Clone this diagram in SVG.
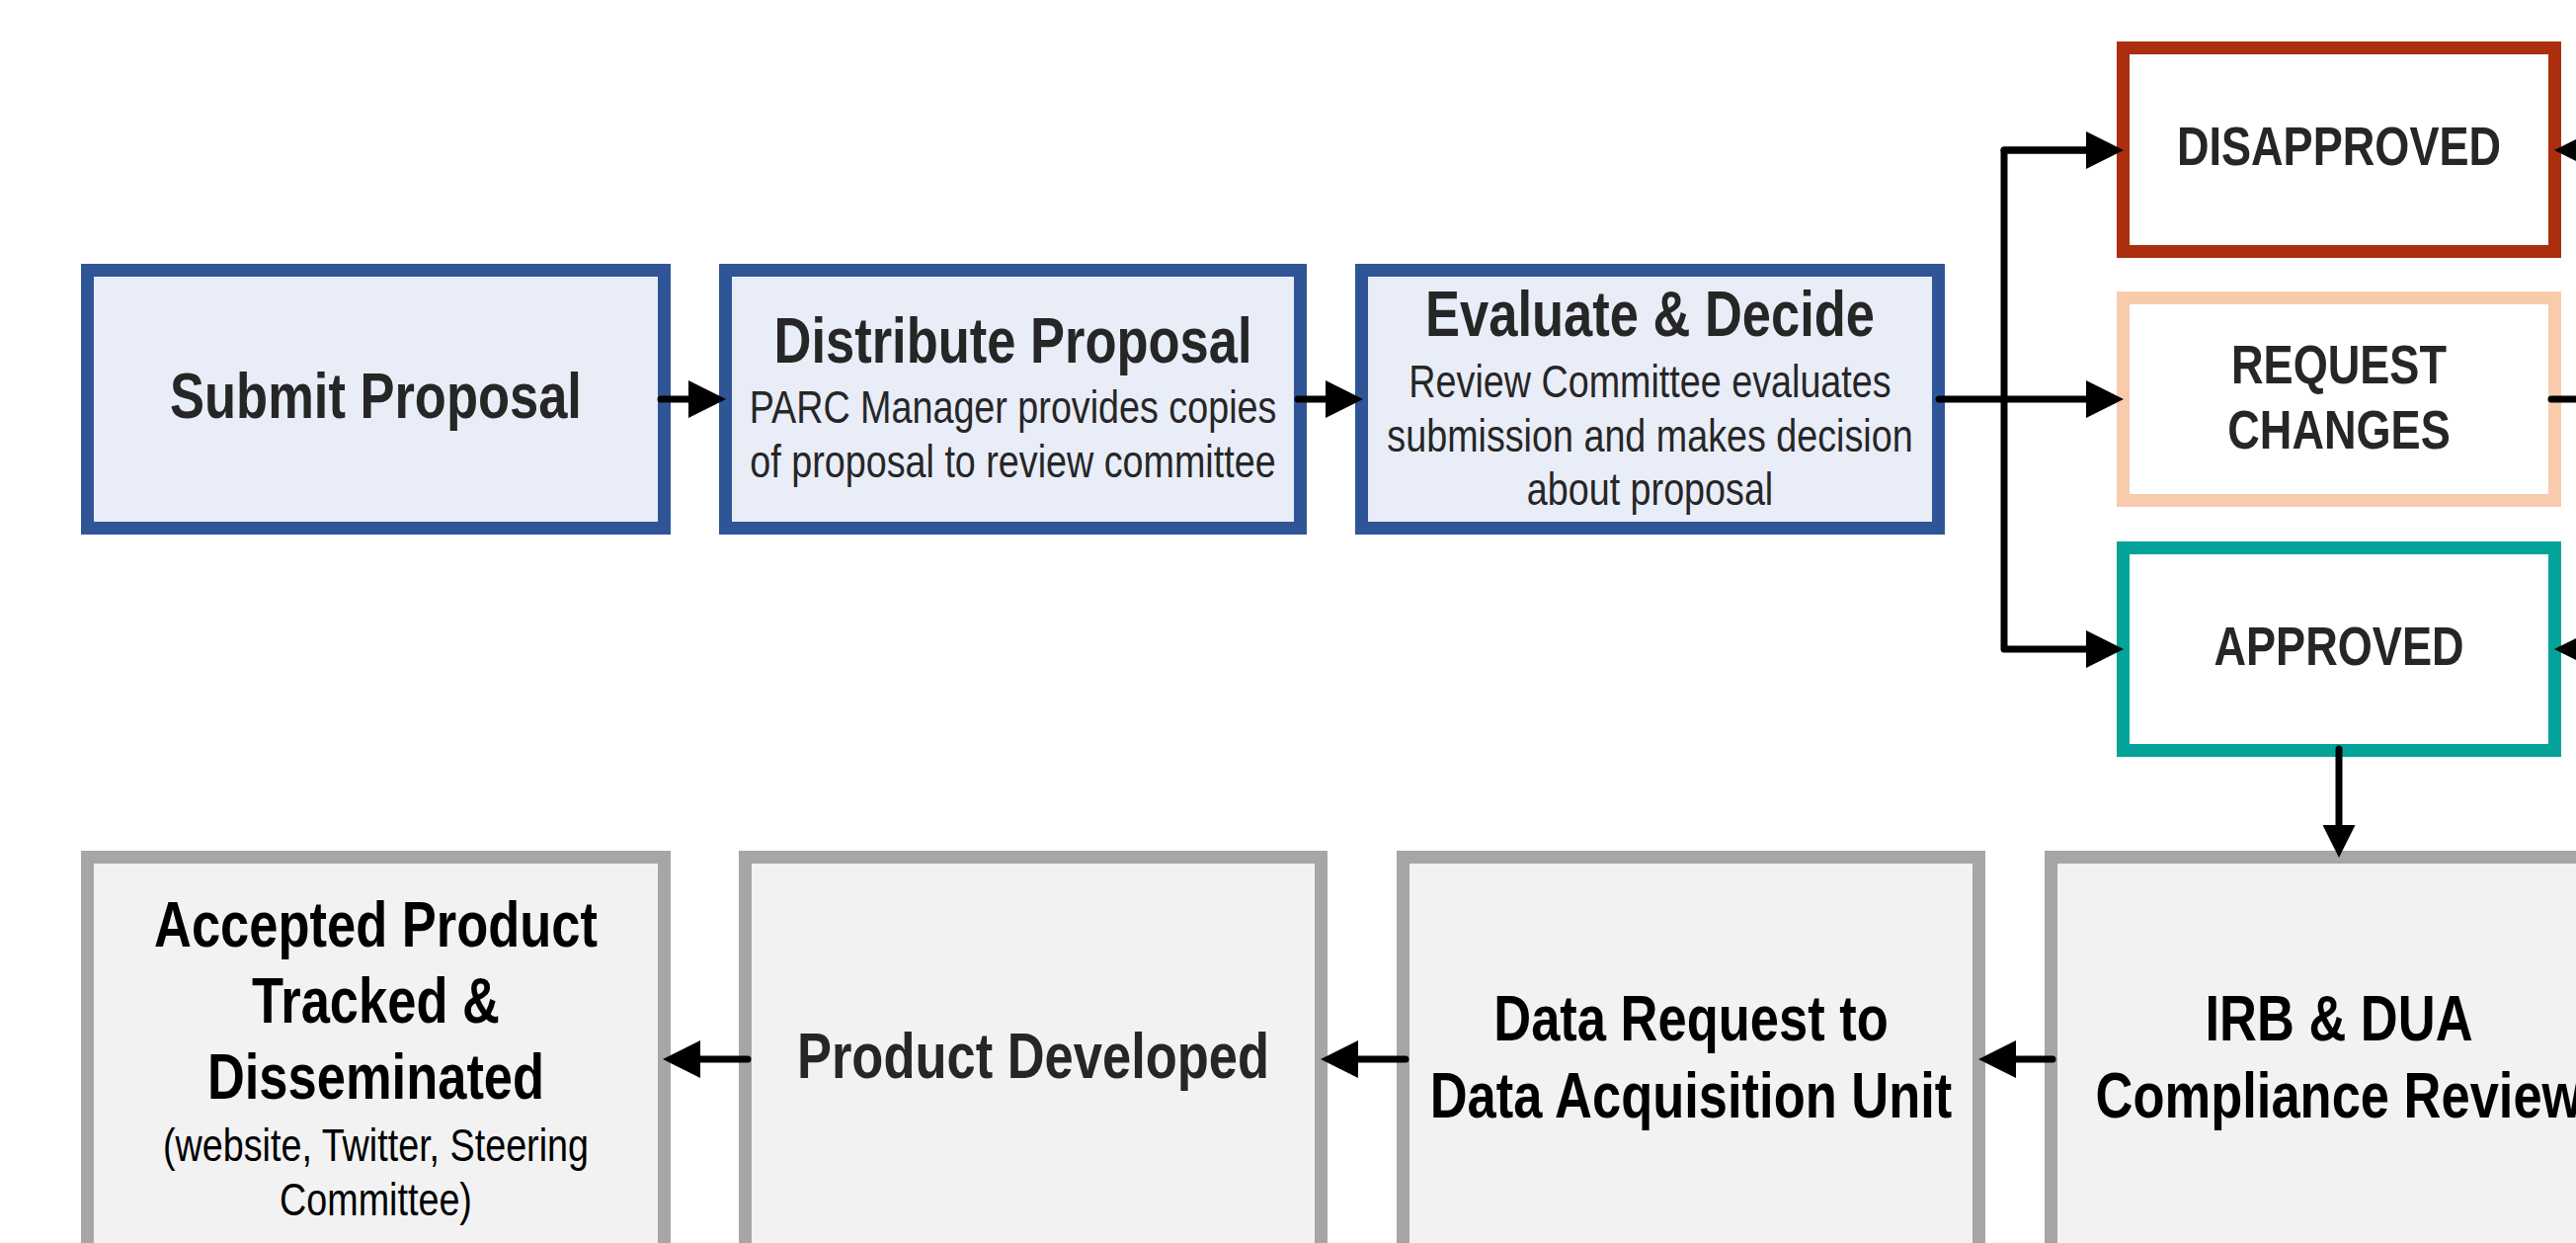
<svg xmlns="http://www.w3.org/2000/svg" width="2608" height="1258" viewBox="0 0 2608 1258">
<style>
  text { font-family: 'Liberation Sans', Arial, sans-serif; text-anchor: middle; }
  .t { font-weight: bold; font-size: 64px; fill: #262626; }
  .tk { font-weight: bold; font-size: 64px; fill: #000000; }
  .s { font-size: 46px; fill: #262626; }
  .sk { font-size: 46px; fill: #000000; }
  .d { font-weight: bold; font-size: 55px; fill: #262626; }
  .blue { fill: #E9EDF8; stroke: #2F5597; stroke-width: 13; }
  .gray { fill: #F2F2F2; stroke: #A6A6A6; stroke-width: 13; }
  .red { fill: #FFFFFF; stroke: #AB2E0E; stroke-width: 13; }
  .peach { fill: #FFFFFF; stroke: #F8CBAD; stroke-width: 13; }
  .teal { fill: #FFFFFF; stroke: #03A399; stroke-width: 13; }
  .c { fill: none; stroke: #000000; stroke-width: 7; stroke-linecap: round; stroke-linejoin: round; }
</style>
<defs>
  <marker id="ah" markerUnits="userSpaceOnUse" markerWidth="38" markerHeight="38" viewBox="0 0 37 37" refX="0" refY="18.5" orient="auto">
    <path d="M0,0 L37,18.5 L0,37 Z" fill="#000000"/>
  </marker>
  <marker id="ahs" markerUnits="userSpaceOnUse" markerWidth="33" markerHeight="33" viewBox="0 0 32 32" refX="0" refY="16" orient="auto">
    <path d="M0,0 L32,16 L0,32 Z" fill="#000000"/>
  </marker>
</defs>
<rect width="2608" height="1258" fill="#FFFFFF"/>

<g id="submit">
  <rect class="blue" x="88.5" y="273.5" width="584" height="261"/>
  <text class="t" transform="translate(380.5,423) scale(0.82,1)">Submit Proposal</text>
</g>
<g id="distribute">
  <rect class="blue" x="734.5" y="273.5" width="582" height="261"/>
  <text class="t" transform="translate(1025.5,367) scale(0.82,1)">Distribute Proposal</text>
  <text class="s" transform="translate(1025.5,428) scale(0.82,1)">PARC Manager provides copies</text>
  <text class="s" transform="translate(1025.5,483) scale(0.82,1)">of proposal to review committee</text>
</g>
<g id="evaluate">
  <rect class="blue" x="1378.5" y="273.5" width="584" height="261"/>
  <text class="t" transform="translate(1670.5,340) scale(0.82,1)">Evaluate &amp; Decide</text>
  <text class="s" transform="translate(1670.5,402) scale(0.82,1)">Review Committee evaluates</text>
  <text class="s" transform="translate(1670.5,457) scale(0.82,1)">submission and makes decision</text>
  <text class="s" transform="translate(1670.5,511) scale(0.82,1)">about proposal</text>
</g>
<g id="disapproved">
  <rect class="red" x="2149.5" y="48.5" width="437" height="206"/>
  <text class="d" transform="translate(2368,167) scale(0.82,1)">DISAPPROVED</text>
</g>
<g id="request-changes">
  <rect class="peach" x="2149.5" y="301.5" width="437" height="205"/>
  <text class="d" transform="translate(2368,388) scale(0.82,1)">REQUEST</text>
  <text class="d" transform="translate(2368,454) scale(0.82,1)">CHANGES</text>
</g>
<g id="approved">
  <rect class="teal" x="2149.5" y="554.5" width="437" height="205"/>
  <text class="d" transform="translate(2368,673) scale(0.82,1)">APPROVED</text>
</g>
<g id="accepted">
  <rect class="gray" x="88.5" y="867.5" width="584" height="420"/>
  <text class="tk" transform="translate(380.5,958) scale(0.82,1)">Accepted Product</text>
  <text class="tk" transform="translate(380.5,1035) scale(0.82,1)">Tracked &amp;</text>
  <text class="tk" transform="translate(380.5,1112) scale(0.82,1)">Disseminated</text>
  <text class="sk" transform="translate(380.5,1175) scale(0.82,1)">(website, Twitter, Steering</text>
  <text class="sk" transform="translate(380.5,1230) scale(0.82,1)">Committee)</text>
</g>
<g id="product-developed">
  <rect class="gray" x="754.5" y="867.5" width="583" height="420"/>
  <text class="t" transform="translate(1046,1091) scale(0.82,1)">Product Developed</text>
</g>
<g id="data-request">
  <rect class="gray" x="1420.5" y="867.5" width="583" height="420"/>
  <text class="tk" transform="translate(1712,1053) scale(0.82,1)">Data Request to</text>
  <text class="tk" transform="translate(1712,1131) scale(0.82,1)">Data Acquisition Unit</text>
</g>
<g id="irb-dua">
  <rect class="gray" x="2076.5" y="867.5" width="584" height="420"/>
  <text class="tk" transform="translate(2368,1053) scale(0.82,1)">IRB &amp; DUA</text>
  <text class="tk" transform="translate(2368,1131) scale(0.82,1)">Compliance Review</text>
</g>

<g id="connectors">
  <path class="c" d="M669,404 H697" marker-end="url(#ah)"/>
  <path class="c" d="M1314,404 H1342" marker-end="url(#ah)"/>
  <path class="c" d="M1963,404 H2112" marker-end="url(#ah)"/>
  <path class="c" d="M2112,152 H2029 V657 H2112" marker-end="url(#ah)"/>
  <path class="c" d="M2029,152 H2112" marker-end="url(#ah)"/>
  <path class="c" d="M2660,152 H2624" marker-end="url(#ah)"/>
  <path class="c" d="M2583,404 H2660"/>
  <path class="c" d="M2660,657 H2624" marker-end="url(#ah)"/>
  <path class="c" d="M2368,758 V835" marker-end="url(#ahs)"/>
  <path class="c" d="M757,1072 H709" marker-end="url(#ah)"/>
  <path class="c" d="M1423,1072 H1375" marker-end="url(#ah)"/>
  <path class="c" d="M2078,1072 H2041" marker-end="url(#ah)"/>
</g>
</svg>
